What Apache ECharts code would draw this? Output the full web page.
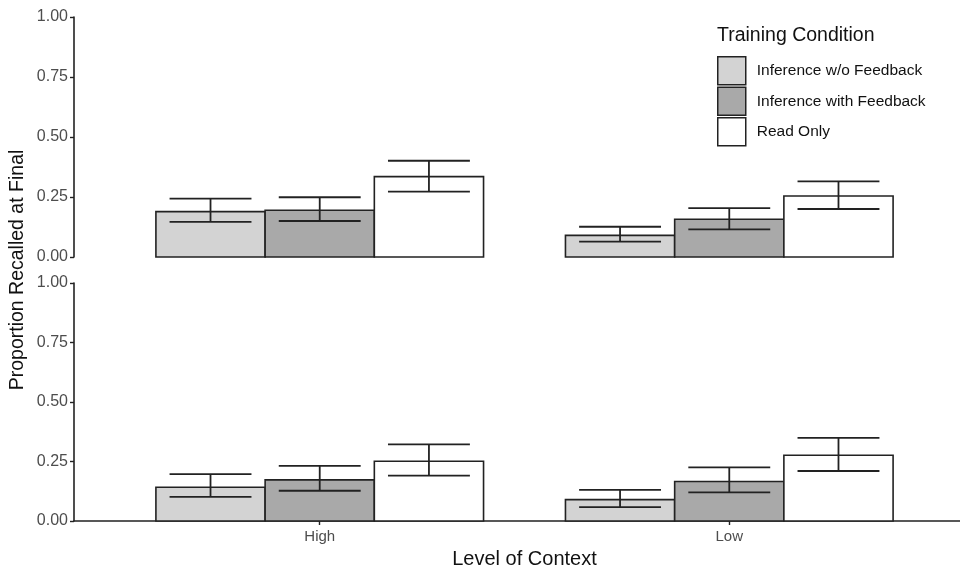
<!DOCTYPE html>
<html>
<head>
<meta charset="utf-8">
<script src="https://cdn.jsdelivr.net/npm/echarts@6/dist/echarts.min.js"></script>
<style>
  html, body { margin: 0; padding: 0; background: #fff; }
  #chart { width: 960px; height: 566px; }
</style>
</head>
<body>
<div id="chart"></div>
<script>
// Level of context categories and training conditions
const categories = ['High', 'Low'];
const conditions = ['Inference w/o Feedback', 'Inference with Feedback', 'Read Only'];
const yTicks = [0, 0.25, 0.5, 0.75, 1];

// Upper panel: mean proportion recalled, with error-bar bounds (one row per condition, High/Low)
const upperMean  = [[0.189, 0.090], [0.195, 0.157], [0.335, 0.254]];
const upperLower = [[0.146, 0.064], [0.150, 0.115], [0.272, 0.200]];
const upperUpper = [[0.243, 0.126], [0.249, 0.204], [0.401, 0.315]];

// Lower panel
const lowerMean  = [[0.142, 0.090], [0.173, 0.166], [0.251, 0.276]];
const lowerLower = [[0.101, 0.058], [0.127, 0.120], [0.191, 0.210]];
const lowerUpper = [[0.197, 0.131], [0.232, 0.225], [0.322, 0.349]];

const fills = ['#d3d3d3', '#a9a9a9', '#ffffff'];
const INK = '#222222';
const DODGE = 0.8;      // total width of a dodged group, in category units
const ERR_W = 0.2;      // error-bar cap width, in category units
const FONT = '"Liberation Sans", Arial, Helvetica, sans-serif';

function rowsFor(mean, lo, hi, k) {
  return categories.map((c, i) => [i + 1, mean[k][i], lo[k][i], hi[k][i]]);
}

function makeRender(k) {
  return function (params, api) {
    const cat = api.value(0), mean = api.value(1), lo = api.value(2), hi = api.value(3);
    const bw = DODGE / 3;
    const xc = cat + (k - 1) * bw;
    const tl = api.coord([xc - bw / 2, mean]);
    const br = api.coord([xc + bw / 2, 0]);
    const cw = ERR_W / 2;
    const hiL = api.coord([xc - cw, hi]), hiR = api.coord([xc + cw, hi]);
    const loL = api.coord([xc - cw, lo]), loR = api.coord([xc + cw, lo]);
    const mHi = api.coord([xc, hi]), mLo = api.coord([xc, lo]);
    const lineStyle = { stroke: INK, lineWidth: 1.8, fill: null };
    return {
      type: 'group',
      children: [
        { type: 'rect', shape: { x: tl[0], y: tl[1], width: br[0] - tl[0], height: br[1] - tl[1] },
          style: { fill: fills[k], stroke: INK, lineWidth: 1.6 } },
        { type: 'line', shape: { x1: hiL[0], y1: hiL[1], x2: hiR[0], y2: hiR[1] }, style: lineStyle },
        { type: 'line', shape: { x1: loL[0], y1: loL[1], x2: loR[0], y2: loR[1] }, style: lineStyle },
        { type: 'line', shape: { x1: mHi[0], y1: mHi[1], x2: mLo[0], y2: mLo[1] }, style: lineStyle }
      ]
    };
  };
}

const series = [];
[[upperMean, upperLower, upperUpper], [lowerMean, lowerLower, lowerUpper]].forEach((panel, gi) => {
  conditions.forEach((name, k) => {
    series.push({
      type: 'custom',
      name: name,
      xAxisIndex: gi,
      yAxisIndex: gi,
      itemStyle: { color: fills[k], borderColor: INK, borderWidth: 1.5 },
      renderItem: makeRender(k),
      encode: { x: 0, y: 1 },
      data: rowsFor(panel[0], panel[1], panel[2], k)
    });
  });
});

function yAxisFor(gi) {
  return {
    type: 'value', gridIndex: gi, min: 0, max: 1, interval: 0.25,
    axisLine: { show: true, lineStyle: { color: INK, width: 1.6 } },
    axisTick: { show: true, length: 4, lineStyle: { color: INK, width: 1.4 } },
    axisLabel: { color: '#4d4d4d', fontSize: 16, fontFamily: FONT, margin: 6,
                 formatter: v => v.toFixed(2) },
    splitLine: { show: false }
  };
}

const chart = echarts.init(document.getElementById('chart'), null, { renderer: 'canvas' });
chart.setOption({
  animation: false,
  backgroundColor: '#ffffff',
  title: {
    text: 'Training Condition', left: 717, top: 26, padding: 0,
    textStyle: { fontFamily: FONT, fontSize: 19.5, fontWeight: 'normal', color: '#111' }
  },
  legend: {
    orient: 'vertical', left: 717, top: 56, padding: 0,
    data: conditions, icon: 'rect', itemWidth: 28, itemHeight: 28, itemGap: 1,
    itemStyle: { borderColor: INK, borderWidth: 1.5 },
    textStyle: { fontFamily: FONT, fontSize: 15.5, color: '#111', padding: [0, 0, 0, 6] },
    selectedMode: false
  },
  grid: [
    { left: 74, top: 17, width: 901, height: 240, outerBoundsMode: 'none' },
    { left: 74, top: 283, width: 901, height: 238, outerBoundsMode: 'none' }
  ],
  xAxis: [
    { type: 'value', gridIndex: 0, min: 0.4, max: 2.6,
      axisLine: { show: false }, axisTick: { show: false }, axisLabel: { show: false },
      splitLine: { show: false } },
    { type: 'value', gridIndex: 1, min: 0.4, max: 2.6,
      axisLine: { show: true, lineStyle: { color: INK, width: 1.6 } },
      axisTick: { show: true, length: 4, customValues: [1, 2], lineStyle: { color: INK, width: 1.4 } },
      axisLabel: { show: true, customValues: [1, 2], color: '#4d4d4d', fontSize: 15, fontFamily: FONT,
                   margin: 8, formatter: v => categories[Math.round(v) - 1] || '' },
      splitLine: { show: false },
      name: 'Level of Context', nameLocation: 'middle', nameGap: 28,
      nameTextStyle: { fontFamily: FONT, fontSize: 20, color: '#111' } }
  ],
  yAxis: [yAxisFor(0), yAxisFor(1)],
  graphic: [{
    type: 'text', x: 18, y: 270, rotation: Math.PI / 2,
    style: { text: 'Proportion Recalled at Final', font: '19.5px ' + FONT, fill: '#111',
             textAlign: 'center', textVerticalAlign: 'middle' }
  }],
  series: series
});
</script>
</body>
</html>
